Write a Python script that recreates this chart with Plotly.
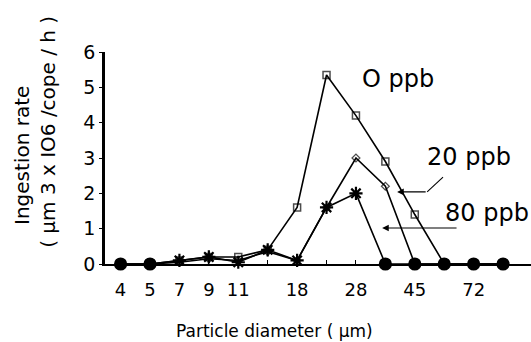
import plotly.graph_objects as go

# Data
size_classes = ["4", "5", "7", "9", "11", "14", "18", "22", "28", "35", "45", "57", "72", "90"]
tick_labels = ["4", "5", "7", "9", "11", "", "18", "", "28", "", "45", "", "72", ""]
rate_0ppb = [0, 0, 0.1, 0.2, 0.2, 0.4, 1.6, 5.35, 4.2, 2.9, 1.4, 0, 0, 0]
rate_20ppb = [0, 0, 0.05, 0.15, 0.1, 0.35, 0.1, 1.6, 3.0, 2.2, 0, 0, 0, 0]
rate_80ppb = [0, 0, 0.1, 0.2, 0.05, 0.4, 0.1, 1.6, 2.0, 0, 0, 0, 0, 0]

xi = list(range(len(size_classes)))
FONT = "DejaVu Sans"

fig = go.Figure()

def sym(vals, base):
    return ["circle" if v == 0 else base for v in vals]

fig.add_trace(go.Scatter(
    x=xi, y=rate_0ppb, mode="lines+markers", name="0 ppb",
    line=dict(color="black", width=1.6),
    marker=dict(symbol=sym(rate_0ppb, "square-open"), size=[10 if v == 0 else 7 for v in rate_0ppb],
                color="black", line=dict(color="black", width=1.5)),
    cliponaxis=False))
fig.add_trace(go.Scatter(
    x=xi, y=rate_20ppb, mode="lines+markers", name="20 ppb",
    line=dict(color="black", width=1.6),
    marker=dict(symbol=sym(rate_20ppb, "diamond-open"), size=[10 if v == 0 else 6 for v in rate_20ppb],
                color="black", line=dict(color="black", width=1.3)),
    cliponaxis=False))
fig.add_trace(go.Scatter(
    x=xi, y=rate_80ppb, mode="lines+markers", name="80 ppb",
    line=dict(color="black", width=1.6),
    marker=dict(symbol=sym(rate_80ppb, "asterisk-open"), size=11,
                color="black", line=dict(color="black", width=2.2)),
    cliponaxis=False))

annos = [
    dict(x=9.44, y=5.24, text="O ppb"),
    dict(x=11.85, y=3.03, text="20 ppb"),
    dict(x=12.46, y=1.44, text="80 ppb"),
]
annotations = [dict(xref="x", yref="y", x=a["x"], y=a["y"], text=a["text"], showarrow=False,
                    font=dict(family=FONT, size=24, color="black")) for a in annos]
# arrows
annotations.append(dict(xref="x", yref="y", axref="x", ayref="y", x=9.40, y=2.04, ax=10.42, ay=2.04,
                        text="", showarrow=True, arrowhead=2, arrowsize=1.2, arrowwidth=1.1, arrowcolor="black"))
annotations.append(dict(xref="x", yref="y", axref="x", ayref="y", x=8.89, y=1.02, ax=11.47, ay=1.02,
                        text="", showarrow=True, arrowhead=2, arrowsize=1.2, arrowwidth=1.1, arrowcolor="black"))
# axis titles
annotations.append(dict(xref="paper", yref="paper", x=0.399, y=-0.316, xanchor="center", yanchor="middle",
                        text="Particle diameter ( μm)", showarrow=False,
                        font=dict(family=FONT, size=17, color="black")))
annotations.append(dict(xref="paper", yref="paper", x=-0.195, y=0.514, xanchor="center", yanchor="middle",
                        text="Ingestion rate", textangle=-90, showarrow=False,
                        font=dict(family=FONT, size=20, color="black")))
annotations.append(dict(xref="paper", yref="paper", x=-0.134, y=0.623, xanchor="center", yanchor="middle",
                        text="( μm 3 x IO6 /cope / h )", textangle=-90, showarrow=False,
                        font=dict(family=FONT, size=20, color="black")))

fig.add_shape(type="line", xref="x", yref="y", x0=10.42, y0=2.04, x1=10.96, y1=2.46,
              line=dict(color="black", width=1.1))

fig.update_layout(
    width=531, height=342,
    margin=dict(l=105, r=0, t=52, b=78),
    paper_bgcolor="white", plot_bgcolor="white",
    showlegend=False,
    annotations=annotations,
    font=dict(family=FONT, color="black"),
)
fig.update_xaxes(
    range=[-0.53, 13.95], tickmode="array", tickvals=xi, ticktext=tick_labels,
    showline=True, linecolor="black", linewidth=2, showgrid=False, zeroline=False,
    ticks="inside", ticklen=4, tickwidth=1, tickcolor="black",
    ticklabelstandoff=8,
    tickfont=dict(family=FONT, size=18, color="black"),
)
fig.update_yaxes(
    range=[0, 6], tickvals=[0, 1, 2, 3, 4, 5, 6],
    showline=True, linecolor="black", linewidth=2.5, showgrid=False, zeroline=False,
    ticks="outside", ticklen=3, tickwidth=1.2, tickcolor="black",
    tickfont=dict(family=FONT, size=19, color="black"),
)

fig.write_html("out.html")
